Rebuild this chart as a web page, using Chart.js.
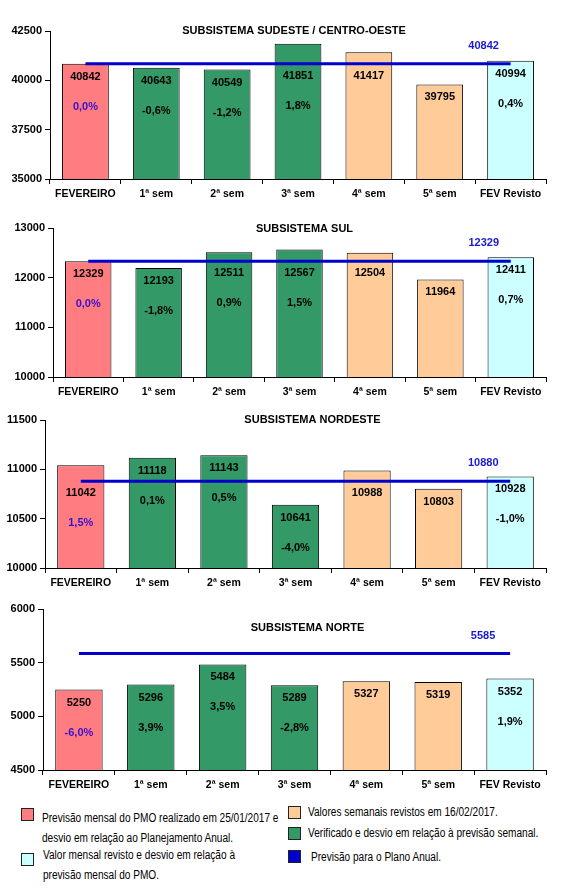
<!DOCTYPE html>
<html>
<head>
<meta charset="utf-8">
<script src="https://cdn.jsdelivr.net/npm/chart.js@4/dist/chart.umd.min.js"></script>
<style>
	body { margin: 0; background: #fff; width: 572px; height: 892px; position: relative; overflow: hidden; }
	canvas { position: absolute; left: 0; }
	.lg { position: absolute; font-family: "Liberation Sans", Arial, sans-serif; font-size: 12px; color: #000; white-space: nowrap; line-height: 14px; transform: scaleX(0.84); transform-origin: 0 0; }
	.sw { position: absolute; width: 13px; height: 13px; border: 1px solid #222; box-sizing: border-box; }
</style>
</head>
<body>
<canvas id="c-se" width="572" height="205" style="top:0"></canvas>
<canvas id="c-s" width="572" height="200" style="top:205px"></canvas>
<canvas id="c-ne" width="572" height="191" style="top:405px"></canvas>
<canvas id="c-n" width="572" height="202" style="top:596px"></canvas>

<div class="sw" style="left:21px;top:808px;background:#ff7c80"></div>
<div class="lg" style="left:42px;top:811px">Previsão mensal do PMO realizado em 25/01/2017 e</div>
<div class="lg" style="left:42px;top:831px">desvio em relação ao Planejamento Anual.</div>
<div class="sw" style="left:21px;top:853px;background:#ccffff"></div>
<div class="lg" style="left:43px;top:848px">Valor mensal revisto e desvio em relação à</div>
<div class="lg" style="left:43px;top:868px">previsão mensal do PMO.</div>

<div class="sw" style="left:288px;top:806px;background:#ffcc99"></div>
<div class="lg" style="left:308px;top:805px">Valores semanais revistos em 16/02/2017.</div>
<div class="sw" style="left:288px;top:827px;background:#339966"></div>
<div class="lg" style="left:308px;top:826px">Verificado e desvio em relação à previsão semanal.</div>
<div class="sw" style="left:288px;top:850px;background:#0000cc"></div>
<div class="lg" style="left:311px;top:850px">Previsão para o Plano Anual.</div>

<script>
const categories = ["FEVEREIRO", "1ª sem", "2ª sem", "3ª sem", "4ª sem", "5ª sem", "FEV Revisto"];

const seValues = [40842, 40643, 40549, 41851, 41417, 39795, 40994];
const sePct = ["0,0%", "-0,6%", "-1,2%", "1,8%", "", "", "0,4%"];
const sePlan = 40842;
const seTicks = [35000, 37500, 40000, 42500];

const sulValues = [12329, 12193, 12511, 12567, 12504, 11964, 12411];
const sulPct = ["0,0%", "-1,8%", "0,9%", "1,5%", "", "", "0,7%"];
const sulPlan = 12329;
const sulTicks = [10000, 11000, 12000, 13000];

const neValues = [11042, 11118, 11143, 10641, 10988, 10803, 10928];
const nePct = ["1,5%", "0,1%", "0,5%", "-4,0%", "", "", "-1,0%"];
const nePlan = 10880;
const neTicks = [10000, 10500, 11000, 11500];

const nValues = [5250, 5296, 5484, 5289, 5327, 5319, 5352];
const nPct = ["-6,0%", "3,9%", "3,5%", "-2,8%", "", "", "1,9%"];
const nPlan = 5585;
const nTicks = [4500, 5000, 5500, 6000];

const barColors = ["#ff7c80", "#339966", "#339966", "#339966", "#ffcc99", "#ffcc99", "#ccffff"];
const FONT = '"Liberation Sans", Arial, sans-serif';

function makeChart(canvasId, title, values, pct, plan, ticks, layout) {
	const canvas = document.getElementById(canvasId);

	const labelPlugin = {
		id: "labels_" + canvasId,
		afterDatasetsDraw(chart) {
			const ctx = chart.ctx;
			const area = chart.chartArea;
			ctx.save();
			ctx.textAlign = "center";
			ctx.textBaseline = "middle";

			ctx.fillStyle = "#000";
			ctx.font = "bold 11px " + FONT;
			ctx.fillText(title, (area.left + area.right) / 2 + layout.titleDx, area.top + layout.titleDy);

			const pts = chart.getDatasetMeta(1).data;
			const lineY = pts[0].y;

			const bars = chart.getDatasetMeta(0).data;
			bars.forEach((bar, i) => {
				let y = bar.y + 13;
				// keep the value clear of the plan line, as in the original
				if (Math.abs(y - lineY) < 8) {
					y = lineY + 12;
				}
				ctx.fillStyle = "#000";
				ctx.fillText(String(values[i]), bar.x, y);
				if (pct[i]) {
					ctx.fillStyle = i === 0 ? "#3a10d0" : "#000";
					ctx.fillText(pct[i], bar.x, y + 30);
				}
			});

			const last = pts[pts.length - 1];
			ctx.fillStyle = "#1a1ad0";
			ctx.fillText(String(plan), last.x - 27, last.y - 18);
			ctx.restore();
		},
	};

	return new Chart(canvas, {
		data: {
			labels: categories,
			datasets: [
				{
					type: "bar",
					data: values,
					backgroundColor: barColors,
					borderColor: "#000",
					borderWidth: 1,
					categoryPercentage: 1,
					barPercentage: 0.66,
					order: 2,
				},
				{
					type: "line",
					data: categories.map(() => plan),
					borderColor: "#0000cc",
					borderWidth: 3,
					pointRadius: 0,
					fill: false,
					order: 1,
				},
			],
		},
		options: {
			responsive: false,
			animation: false,
			devicePixelRatio: 1,
			layout: { padding: { top: layout.top, bottom: layout.bottom, left: 0, right: 26 } },
			plugins: {
				legend: { display: false },
				tooltip: { enabled: false },
			},
			scales: {
				x: {
					grid: { drawOnChartArea: false, color: "#000", tickLength: 5, offset: true },
					border: { color: "#000", width: 1 },
					ticks: { color: "#000", font: { family: FONT, size: 10.5, weight: "bold" }, padding: 4, maxRotation: 0 },
					afterFit: (s) => { s.height = 26; },
				},
				y: {
					min: ticks[0],
					max: ticks[ticks.length - 1],
					grid: { drawOnChartArea: false, color: "#000", tickLength: 5 },
					border: { color: "#000", width: 1 },
					ticks: { color: "#000", font: { family: FONT, size: 11, weight: "bold" }, padding: 3, callback: (v) => String(v) },
					afterBuildTicks: (s) => { s.ticks = ticks.map((v) => ({ value: v })); },
					afterFit: (s) => { s.width = layout.axisX; },
				},
			},
		},
		plugins: [labelPlugin],
	});
}

makeChart("c-se", "SUBSISTEMA SUDESTE / CENTRO-OESTE", seValues, sePct, sePlan, seTicks,
	{ top: 31, bottom: 0, axisX: 50, titleDx: -4, titleDy: 0 });
makeChart("c-s", "SUBSISTEMA SUL", sulValues, sulPct, sulPlan, sulTicks,
	{ top: 23, bottom: 2, axisX: 53, titleDx: 5, titleDy: 1 });
makeChart("c-ne", "SUBSISTEMA NORDESTE", neValues, nePct, nePlan, neTicks,
	{ top: 15, bottom: 2, axisX: 45, titleDx: 17, titleDy: 0 });
makeChart("c-n", "SUBSISTEMA NORTE", nValues, nPct, nPlan, nTicks,
	{ top: 13, bottom: 2, axisX: 43, titleDx: 13, titleDy: 19 });
</script>
</body>
</html>
